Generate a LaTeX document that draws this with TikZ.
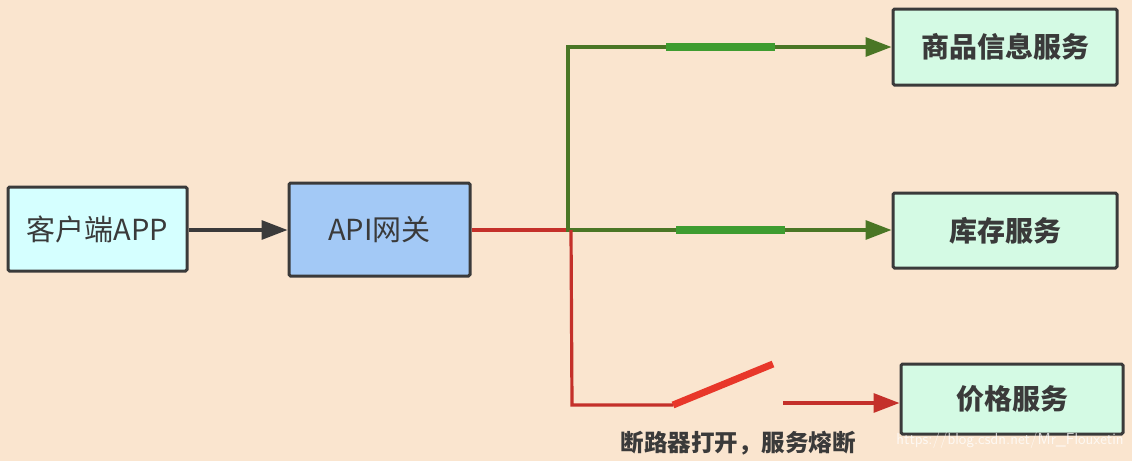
\documentclass[tikz,border=0pt]{standalone}
\usepackage{fontspec}
\setmainfont{Noto Sans CJK SC}
\usetikzlibrary{arrows.meta}
\definecolor{bg}{HTML}{FAE5CF}
\definecolor{boxline}{HTML}{3A3A3A}
\definecolor{clientfill}{HTML}{D5FFFF}
\definecolor{apifill}{HTML}{A3C9F6}
\definecolor{svcfill}{HTML}{D4FAE4}
\definecolor{gline}{HTML}{4A7625}
\definecolor{gbar}{HTML}{3E9C30}
\definecolor{rline}{HTML}{C4302A}
\definecolor{rbar}{HTML}{E8372A}
\tikzset{
  box/.style={draw=boxline, line width=3pt, rounded corners=1.5pt, inner sep=0pt, text=boxline},
  plainfont/.style={font=\fontsize{29}{34}\selectfont},
  boldfont/.style={font=\fontsize{28}{33}\selectfont\bfseries},
  tip/.style={-{Triangle[length=26pt,width=19pt]}},
  conn/.style={line width=3.2pt},
}
\begin{document}
\begin{tikzpicture}[x=1pt,y=-1pt]
\fill[bg] (0,0) rectangle (1132,461);
\useasboundingbox (0,0) rectangle (1132,461);
\node[box, plainfont, fill=clientfill, minimum width=179pt, minimum height=84pt] (client) at (97.5,229) {客户端APP};
\node[box, plainfont, fill=apifill, minimum width=181pt, minimum height=93pt] (api) at (379.5,229.5) {API网关};
\node[box, boldfont, fill=svcfill, minimum width=224pt, minimum height=76pt] (prod) at (1005,47) {商品信息服务};
\node[box, boldfont, fill=svcfill, minimum width=224pt, minimum height=75pt] (stock) at (1005,230.5) {库存服务};
\node[box, boldfont, fill=svcfill, minimum width=222pt, minimum height=70pt] (price) at (1012,399) {价格服务};
\coordinate (split) at (571,230);
\coordinate (topturn) at (568,47);
\coordinate (redturn) at (572,405);
\coordinate (swA) at (673,405);
\coordinate (swB) at (773,364);
\coordinate (swC) at (783,403);
% client -> api
\draw[conn, boxline, tip] (client.east |- 0,230) -- (api.west |- 0,230);
% red from api to split
\draw[conn, rline] (api.east |- 0,230) -- (split);
% green branches
\draw[conn, gline, tip, line join=miter] (split) -- (topturn |- split) -- (topturn) -- (prod.west |- topturn);
\draw[conn, gline, tip] (split) -- (stock.west |- split);
\draw[line width=8pt, gbar] (666,47) -- (775,47);
\draw[line width=8pt, gbar] (676,230) -- (785,230);
% red branch
\draw[conn, rline] (split) -- (redturn) -- (swA);
\draw[line width=7pt, rbar] (swA) -- (swB);
\draw[conn, rline, tip] (swC) -- (price.west |- swC);
\node[font=\fontsize{23.5}{28}\selectfont\bfseries, text=boxline] (lbl) at (738,443) {断路器打开，服务熔断};
\node[font=\fontsize{16}{19}\selectfont\sffamily, text=white, opacity=0.75] (wm) at (1010,440) {https://blog.csdn.net/Mr\_Flouxetin};
\end{tikzpicture}
\end{document}
